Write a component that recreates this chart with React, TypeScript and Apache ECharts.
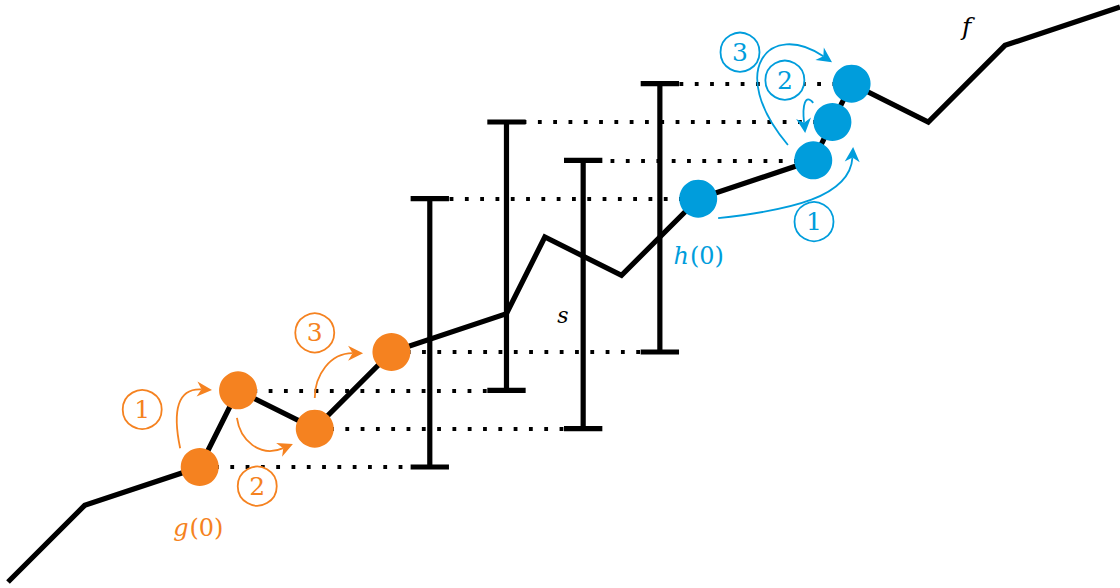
import React, { useEffect, useRef } from "react";
import * as echarts from "echarts";

// lattice units (x to the right, y upwards)
const fPath: [number, number][] = [
  [0, 0], [2, 2], [5, 3], [6, 5], [8, 4], [10, 6], [13, 7], [14, 9], [16, 8],
  [18, 10], [21, 11], [21.5, 12], [22, 13], [24, 12], [26, 14], [29, 15],
];
const gPoints: [number, number][] = [[5, 3], [6, 5], [8, 4], [10, 6]];
const hPoints: [number, number][] = [[18, 10], [21, 11], [21.5, 12], [22, 13]];
const intervalX = [11, 13, 15, 17];
const intervalLow = [3, 5, 4, 6];
const intervalHigh = [10, 12, 11, 13];
const gIndexOfInterval = [0, 1, 2, 3];
const hIndexOfInterval = [0, 2, 1, 3];

const orangeSteps = ["1", "2", "3"];
const orangeStepAt: [number, number][] = [[3.5, 4.5], [6.5, 2.5], [8, 6.5]];
const blueSteps = ["1", "2", "3"];
const blueStepAt: [number, number][] = [[21.02, 9.4], [20.26, 13.09], [19.09, 13.82]];

// math labels: italic part, upright part
const labelItalic = ["g", "h", "s", "f"];
const labelUpright = ["(0)", "(0)", "", ""];
const labelAt: [number, number][] = [[4.95, 1.4], [18, 8.5], [14.47, 6.96], [25, 14.5]];

// cubic bezier arrows: start, control1, control2, end
const orangeArrows: [number, number][][] = [
  [[4.49, 3.49], [4.28, 4.49], [4.43, 5.06], [5.32, 5.01]],
  [[5.97, 4.28], [6.05, 3.7], [6.57, 3.23], [7.43, 3.6]],
  [[8.0, 4.8], [8.0, 5.4], [8.4, 5.97], [9.26, 5.97]],
];
const blueArrows: [number, number][][] = [
  [[18.52, 9.49], [20.4, 9.7], [21.96, 10.04], [22.04, 11.35]],
  [[21.0, 12.5], [20.79, 12.75], [20.71, 12.44], [20.79, 11.71]],
  [[20.34, 11.4], [18.7, 13.35], [19.87, 14.66], [21.49, 13.56]],
];

const ORANGE = "#F58220";
const BLUE = "#009DDC";
const SERIF = "DejaVu Serif";
const labelColor = [ORANGE, BLUE, "#000", "#000"];
const labelSize = [24, 24, 22, 25];

function arrowSeries(arrows: [number, number][][], color: string) {
  return {
    type: "custom",
    coordinateSystem: "cartesian2d",
    z: 6,
    silent: true,
    data: arrows.map((a, i) => [a[0][0], a[0][1], i]),
    renderItem: (params: any, api: any) => {
      const a = arrows[params.dataIndex];
      const [p0, c1, c2, p3] = a.map((pt) => api.coord(pt));
      const dx = p3[0] - c2[0];
      const dy = p3[1] - c2[1];
      const L = Math.hypot(dx, dy) || 1;
      const ux = dx / L, uy = dy / L;
      const nx = -uy, ny = ux;
      const len = 15, hw = 7.5, notch = 4.5;
      const bx = p3[0] - len * ux, by = p3[1] - len * uy;
      const mx = p3[0] - (len - notch) * ux, my = p3[1] - (len - notch) * uy;
      return {
        type: "group",
        children: [
          {
            type: "bezierCurve",
            shape: {
              x1: p0[0], y1: p0[1], cpx1: c1[0], cpy1: c1[1],
              cpx2: c2[0], cpy2: c2[1], x2: mx, y2: my,
            },
            style: { stroke: color, fill: null, lineWidth: 1.8 },
          },
          {
            type: "polygon",
            shape: {
              points: [
                [p3[0], p3[1]],
                [bx + hw * nx, by + hw * ny],
                [mx, my],
                [bx - hw * nx, by - hw * ny],
              ],
            },
            style: { fill: color, stroke: null },
          },
        ],
      };
    },
  };
}

function stepSeries(labels: string[], at: [number, number][], color: string) {
  return {
    type: "scatter",
    z: 5,
    silent: true,
    symbol: "circle",
    symbolSize: 39,
    itemStyle: { color: "#fff", borderColor: color, borderWidth: 1.8, opacity: 1 },
    label: {
      show: true,
      position: "inside",
      formatter: "{b}",
      color,
      fontSize: 25,
      fontFamily: SERIF,
    },
    data: labels.map((l, i) => ({ name: l, value: at[i] })),
  };
}

export default function App() {
  const ref = useRef<HTMLDivElement>(null);
  useEffect(() => {
    if (!ref.current) return;
    const chart = echarts.init(ref.current, undefined, { renderer: "svg" });
    const dotted: any[] = [];
    intervalX.forEach((x, i) => {
      const g = gPoints[gIndexOfInterval[i]];
      const h = hPoints[hIndexOfInterval[i]];
      dotted.push({ coords: [[g[0], intervalLow[i]], [x, intervalLow[i]]] });
      dotted.push({ coords: [[h[0], intervalHigh[i]], [x, intervalHigh[i]]] });
    });
    chart.setOption({
      animation: false,
      backgroundColor: "#fff",
      textStyle: { fontFamily: SERIF },
      grid: { left: 8, right: 0, top: 7, bottom: 6 },
      xAxis: { type: "value", min: 0, max: 29, show: false },
      yAxis: { type: "value", min: 0, max: 15, show: false },
      series: [
        {
          type: "lines",
          coordinateSystem: "cartesian2d",
          z: 1,
          silent: true,
          lineStyle: { color: "#000", width: 3.8, type: [3.8, 11.5], cap: "butt", opacity: 1 },
          data: dotted,
        },
        {
          type: "line",
          z: 2,
          clip: false,
          silent: true,
          symbol: "none",
          lineStyle: { color: "#000", width: 5.2, join: "miter", cap: "butt" },
          data: fPath,
        },
        {
          type: "custom",
          coordinateSystem: "cartesian2d",
          z: 3,
          silent: true,
          data: intervalX.map((x, i) => [x, intervalLow[i], intervalHigh[i]]),
          renderItem: (params: any, api: any) => {
            const i = params.dataIndex;
            const x = intervalX[i];
            const top = api.coord([x, intervalHigh[i]]);
            const bot = api.coord([x, intervalLow[i]]);
            const half = api.size([0.5, 0])[0];
            const st = { stroke: "#000", lineWidth: 5.2, lineCap: "butt" };
            return {
              type: "group",
              children: [
                { type: "line", shape: { x1: top[0], y1: top[1], x2: bot[0], y2: bot[1] }, style: st },
                { type: "line", shape: { x1: top[0] - half, y1: top[1], x2: top[0] + half, y2: top[1] }, style: st },
                { type: "line", shape: { x1: bot[0] - half, y1: bot[1], x2: bot[0] + half, y2: bot[1] }, style: st },
              ],
            };
          },
        },
        {
          type: "scatter",
          z: 4,
          silent: true,
          symbolSize: 38,
          itemStyle: { color: ORANGE, opacity: 1 },
          data: gPoints,
        },
        {
          type: "scatter",
          z: 4,
          silent: true,
          symbolSize: 38,
          itemStyle: { color: BLUE, opacity: 1 },
          data: hPoints,
        },
        stepSeries(orangeSteps, orangeStepAt, ORANGE),
        stepSeries(blueSteps, blueStepAt, BLUE),
        arrowSeries(orangeArrows, ORANGE),
        arrowSeries(blueArrows, BLUE),
        {
          type: "custom",
          coordinateSystem: "cartesian2d",
          z: 7,
          silent: true,
          data: labelAt.map((p, i) => [p[0], p[1], i]),
          renderItem: (params: any, api: any) => {
            const i = params.dataIndex;
            const c = api.coord(labelAt[i]);
            const size = labelSize[i];
            const color = labelColor[i];
            const it = labelItalic[i];
            const up = labelUpright[i];
            const italicFont = `italic ${size}px "${SERIF}", serif`;
            const uprightFont = `${size}px "${SERIF}", serif`;
            const fmt: any = (echarts as any).format;
            const wi = fmt && fmt.getTextRect ? fmt.getTextRect(it, italicFont).width : size * 0.5;
            const wu = up ? (fmt && fmt.getTextRect ? fmt.getTextRect(up, uprightFont).width : size) : 0;
            const x0 = c[0] - (wi + wu) / 2;
            const children: any[] = [
              {
                type: "text",
                x: x0,
                y: c[1],
                style: { text: it, font: italicFont, fill: color, align: "left", verticalAlign: "middle" },
              },
            ];
            if (up) {
              children.push({
                type: "text",
                x: x0 + wi + 1,
                y: c[1],
                style: { text: up, font: uprightFont, fill: color, align: "left", verticalAlign: "middle" },
              });
            }
            return { type: "group", children };
          },
        },
      ],
    });
    return () => chart.dispose();
  }, []);
  return (
    <div
      ref={ref}
      style={{ position: "fixed", left: 0, top: 0, width: 1120, height: 588, background: "#fff" }}
    />
  );
}
